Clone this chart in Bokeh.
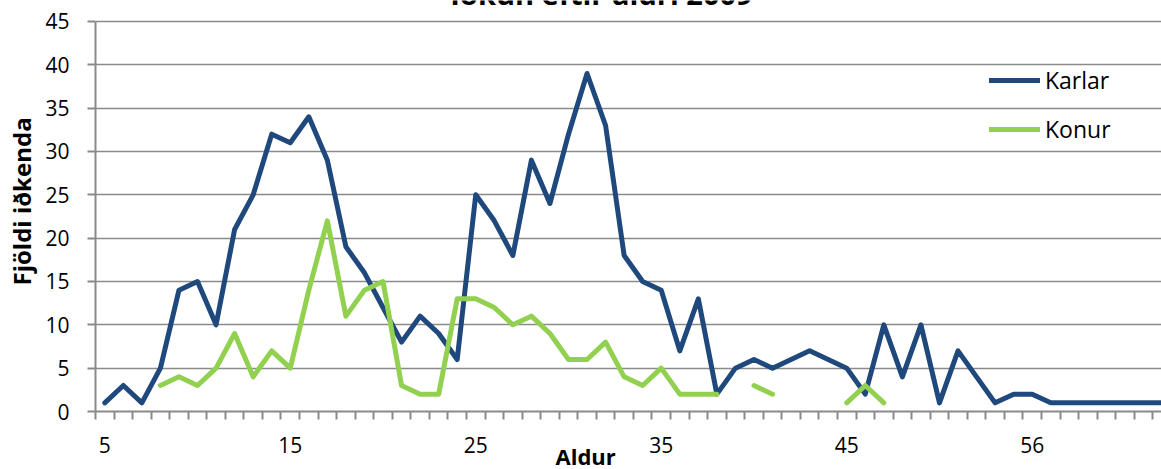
import numpy as np
from bokeh.plotting import figure
from bokeh.models import (Range1d, FixedTicker, Legend, LegendItem, Label,
                          Title, LinearAxis, ColumnDataSource)
from bokeh.embed import file_html
from bokeh.resources import INLINE

# ---------------- data ----------------
ages = list(range(5, 46)) + [46, 47, 48, 49, 50, 51, 52, 53, 55, 56] + [57, 58, 59, 60, 61, 62, 63]

karlar = [1, 3, 1, 5, 14, 15, 10, 21, 25, 32, 31, 34, 29, 19, 16, 12, 8, 11, 9, 6,
          25, 22, 18, 29, 24, 32, 39, 33, 18, 15, 14, 7, 13, 2, 5, 6, 5, 6, 7, 6,
          5, 2, 10, 4, 10, 1, 7, 4, 1, 2, 2, 1, 1, 1, 1, 1, 1, 1]

nan = np.nan
konur = [nan, nan, nan, 3, 4, 3, 5, 9, 4, 7, 5, 14, 22, 11, 14, 15, 3, 2, 2, 13,
         13, 12, 10, 11, 9, 6, 6, 8, 4, 3, 5, 2, 2, 2, nan, 3, 2, nan, nan, nan,
         1, 3, 1, nan, nan, nan, nan, nan, nan, nan, nan, nan, nan, nan, nan, nan, nan, nan]

y_ticks = [0, 5, 10, 15, 20, 25, 30, 35, 40, 45]
label_idx = [0, 10, 20, 30, 40, 50]

title_text = "Iðkun eftir aldri 2009"
y_title = "Fjöldi iðkenda"
x_title = "Aldur"
series_names = ["Karlar", "Konur"]

# ---------------- styles ----------------
BLUE = "#1F497D"
GREEN = "#92D050"
GRID = "#8a8a8a"
FONT = "Open Sans"

idx = list(range(len(ages)))
boundaries = [i - 0.5 for i in idx]
src = ColumnDataSource(data=dict(x=idx, karlar=np.array(karlar, dtype=float),
                                 konur=np.array(konur, dtype=float)))

W, H = 1161, 469
# frame reaches the top edge so the (cut-off) chart title can sit inside it
p = figure(width=W, height=H, output_backend="svg", toolbar_location=None,
           x_range=Range1d(-0.5, 56.97), y_range=Range1d(0, 47.42),
           min_border_left=95, min_border_right=0, min_border_top=0,
           min_border_bottom=58)
p.outline_line_color = None
p.background_fill_color = "white"
p.border_fill_color = "white"

r1 = p.line("x", "karlar", source=src, line_color=BLUE, line_width=5,
            line_join="round", line_cap="round")
r2 = p.line("x", "konur", source=src, line_color=GREEN, line_width=5,
            line_join="round", line_cap="round")

# x axis 1: axis line and tick marks between categories
xa = p.xaxis[0]
xa.ticker = FixedTicker(ticks=boundaries)
xa.major_label_overrides = {b: "" for b in boundaries}
xa.major_label_text_font_size = "1px"
xa.major_label_standoff = 0
xa.major_tick_in = 0
xa.major_tick_out = 8
xa.major_tick_line_color = GRID
xa.major_tick_line_width = 2
xa.minor_tick_line_color = None
xa.axis_line_color = GRID
xa.axis_line_width = 2
p.xgrid.visible = False

# x axis 2: category labels, centred on their categories
xa2 = LinearAxis(ticker=FixedTicker(ticks=label_idx),
                 major_label_overrides={i: str(ages[i]) for i in label_idx},
                 axis_line_color=None, major_tick_line_color=None,
                 minor_tick_line_color=None, major_tick_in=0, major_tick_out=0,
                 minor_tick_in=0, minor_tick_out=0,
                 major_label_standoff=17,
                 major_label_text_font=FONT, major_label_text_font_size="21px",
                 major_label_text_color="black")
p.add_layout(xa2, "below")

# y axis
ya = p.yaxis[0]
ya.ticker = FixedTicker(ticks=y_ticks)
ya.bounds = (0, 45)
ya.major_tick_in = 0
ya.major_tick_out = 8
ya.major_tick_line_color = GRID
ya.major_tick_line_width = 2
ya.minor_tick_line_color = None
ya.axis_line_color = GRID
ya.axis_line_width = 2
ya.major_label_text_font = FONT
ya.major_label_text_font_size = "21px"
ya.major_label_text_color = "black"
ya.major_label_standoff = 18
p.ygrid.ticker = FixedTicker(ticks=y_ticks)
p.ygrid.grid_line_color = GRID
p.ygrid.grid_line_width = 1.6

# y axis title in the left panel
p.add_layout(Title(text=y_title, align="left", offset=126, standoff=7,
                   vertical_align="middle",
                   text_font=FONT, text_font_style="bold",
                   text_font_size="24px", text_color="black"), "left")

# x axis title in the bottom panel (pulled up next to the tick labels)
p.add_layout(Title(text=x_title, align="left", offset=460, standoff=-30,
                   vertical_align="top",
                   text_font=FONT, text_font_style="bold",
                   text_font_size="22px", text_color="black"), "below")

# chart title (cut off at the top edge, as in the reference)
p.add_layout(Label(x=26.78, y=48.26, text=title_text,
                   text_align="center", text_baseline="alphabetic",
                   text_font=FONT, text_font_style="bold",
                   text_font_size="29px", text_color="black"))

# legend
legend = Legend(items=[LegendItem(label=series_names[0], renderers=[r1]),
                       LegendItem(label=series_names[1], renderers=[r2])],
                location=(894, 266), orientation="vertical",
                glyph_width=51, glyph_height=24, label_height=24,
                label_standoff=5, spacing=17, padding=0, margin=0,
                border_line_color=None, background_fill_alpha=0,
                label_text_font=FONT, label_text_font_size="23px",
                label_text_color="black")
p.add_layout(legend)

open("out.html", "w").write(file_html(p, INLINE))
